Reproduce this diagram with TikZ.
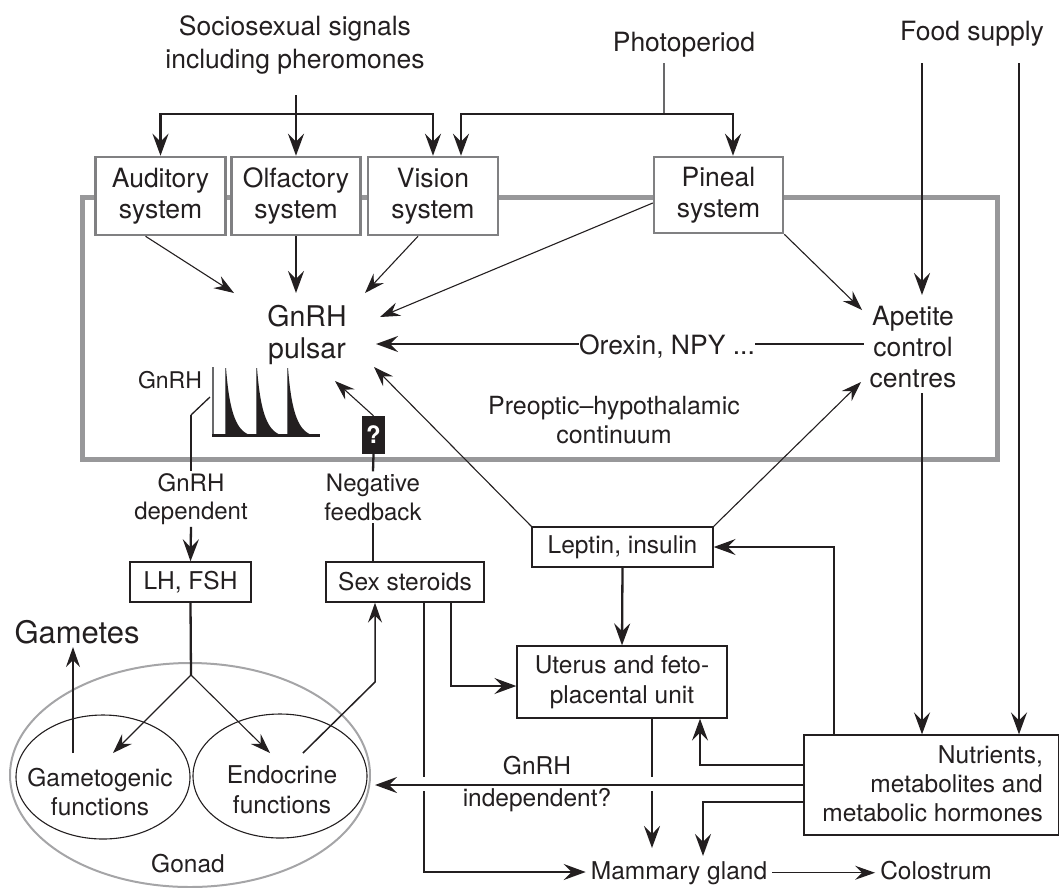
\documentclass[tikz,border=0pt]{standalone}
\usepackage{fontspec}
\setmainfont{TeX Gyre Heros}
\usetikzlibrary{arrows.meta,shapes.geometric}
\definecolor{ink}{RGB}{35,31,32}
\definecolor{framegray}{RGB}{152,152,154}
\definecolor{boxgray}{RGB}{128,128,130}
\definecolor{ellgray}{RGB}{165,165,167}
\definecolor{leadgray}{RGB}{105,105,107}
\newcommand\myfs[2]{\fontsize{#1}{#2}\selectfont}
\begin{document}
\begin{tikzpicture}[x=1pt,y=-1pt,
  txt/.style={align=center,inner sep=0pt,text=ink},
  fbig/.style={font=\myfs{26.5}{33}},
  fmid/.style={font=\myfs{24.5}{29}},
  topbox/.style={draw=boxgray,line width=2.5pt,fill=white,align=center,inner sep=0pt,text=ink,font=\myfs{26.5}{31},minimum height=78pt},
  blbox/.style={draw=ink,line width=1.3pt,fill=white,align=center,inner sep=0pt,text=ink,font=\myfs{24.5}{30},minimum height=40pt},
  thk/.style={draw=ink,line width=2.3pt},
  thn/.style={draw=ink,line width=1.1pt},
  arr/.style={-{Stealth[length=22pt,width=16pt,inset=8pt]}},
  arrs/.style={-{Stealth[length=20pt,width=14pt,inset=7pt]}},
  ell/.style={ellipse,inner sep=0pt},
]
\useasboundingbox (0,0) rectangle (1059,887);

% frame
\draw[framegray,line width=5pt] (82,197) rectangle (997,459);

% top texts
\node[txt,fbig] (socio) at (295,45) {Sociosexual signals\\including pheromones};
\node[txt,fbig] (photo) at (684,45) {Photoperiod};
\node[txt,fbig] (food) at (972,34) {Food supply};

% top boxes
\node[topbox,minimum width=130pt] (aud) at (160.5,196) {Auditory\\system};
\node[topbox,minimum width=129pt] (olf) at (296,196) {Olfactory\\system};
\node[topbox,minimum width=130pt] (vis) at (433,196) {Vision\\system};
\node[topbox,minimum width=129pt,minimum height=76pt] (pin) at (718.5,195) {Pineal\\system};

% inner texts
\node[txt,font=\myfs{28.5}{32}] (pulsar) at (307,335) {GnRH\\pulsar};
\node[txt,font=\myfs{26.5}{31},inner sep=5pt] (apt) at (913,347) {Apetite\\control\\centres};
\node[txt,fbig] (orx) at (667,347) {Orexin, NPY ...};
\node[txt,font=\myfs{25}{29}] (preo) at (614,420) {Preoptic--hypothalamic\\continuum};
\node[txt,font=\myfs{23}{28}] (glab) at (170,380) {GnRH};

% pulse glyph
\draw[leadgray,line width=2pt] (213,367) -- (213,436);
\foreach \x in {226,257,288} {
  \draw[leadgray,line width=1.2pt] (\x-0.5,368) -- (\x-0.5,435);
  \fill[ink] (\x,368) .. controls (\x+3,405) and (\x+8,430) .. (\x+24,435) -- (\x,435) -- cycle;
}
\draw[ink,line width=3pt] (212,435) -- (320,435);

% question box
\node[fill=ink,minimum width=23pt,minimum height=38pt,inner sep=0pt,text=white,font=\bfseries\myfs{24}{24}] (qbox) at (373.5,435) {?};

% lower labels
\node[txt,font=\myfs{24}{28},inner sep=2pt] (gdep) at (191,499) {GnRH\\dependent};
\node[txt,font=\myfs{24}{29},inner sep=2pt] (negfb) at (373,497) {Negative\\feedback};

% lower boxes
\node[blbox,minimum width=121pt] (lh) at (190.5,582) {LH, FSH};
\node[blbox,minimum width=158pt] (sex) at (405,582) {Sex steroids};
\node[blbox,minimum width=181pt] (lep) at (622.5,547) {Leptin, insulin};
\node[blbox,minimum width=210pt,minimum height=72pt] (ute) at (622,682) {Uterus and feto-\\placental unit};
\node[blbox,minimum width=255pt,minimum height=100pt] (nut) at (931.5,785) {};
\node[txt,align=right,anchor=east,font=\myfs{24.5}{29}] (nutt) at (1043,784) {Nutrients,\\metabolites and\\metabolic hormones};

\node[txt,fmid,anchor=base,inner sep=5pt] (mam) at (679,879) {Mammary gland};
\node[txt,fmid,anchor=base,inner sep=5pt] (col) at (936,879) {Colostrum};

% gonad
\node[ell,draw=ellgray,line width=2pt,minimum width=360pt,minimum height=224pt] (gonad) at (190,775) {};
\node[ell,draw=ink,line width=1.1pt,minimum width=174pt,minimum height=124pt] (gam) at (103,777) {};
\node[ell,draw=ink,line width=1.1pt,minimum width=174pt,minimum height=124pt] (endo) at (280,776) {};
\node[txt,fmid] (gamt) at (100,792) {Gametogenic\\functions};
\node[txt,font=\myfs{24.5}{30}] (endt) at (282,790) {Endocrine\\functions};
\node[txt,fmid] (gonadt) at (188,864) {Gonad};
\node[txt,font=\myfs{31}{31},inner sep=3pt] (gam2) at (77,632) {Gametes};

% coordinates
\coordinate (s0) at (296,95);
\coordinate (sj) at (296,114);
\coordinate (p0) at (664,63);
\coordinate (pj) at (664,114);
\coordinate (tAud) at (234,293);
\coordinate (tVis) at (365,293);
\coordinate (tPin) at (380,317);
\coordinate (tOrx) at (376,344);
\coordinate (tQ) at (335,381);
\coordinate (tLep) at (374,367);
\coordinate (tApP) at (862,310);
\coordinate (tApL) at (861,382);
\coordinate (fa) at (922,63);
\coordinate (fat) at (922,295);
\coordinate (fb) at (1019,63);
\coordinate (g1) at (210,397);
\coordinate (g2) at (191,415);
\coordinate (lj) at (191,675);
\coordinate (tGam) at (113,753);
\coordinate (tEnd) at (270,753);
\coordinate (ga0) at (73,753);
\coordinate (e0) at (303,753);
\coordinate (e1) at (375,682);
\coordinate (sx1) at (424,872);
\coordinate (sx2) at (451,686);
\coordinate (um) at (652,848);
\coordinate (nl) at (834,547);
\coordinate (nu) at (700,765);
\coordinate (gi) at (375,785);
\coordinate (nm) at (703,802);

% top connectors
\draw[thk] (s0) -- (sj);
\draw[thk,arr] (sj) -| (aud.north);
\draw[thk,arr] (sj) -- (olf.north);
\draw[thk,arr] (sj) -| (vis.north);
\draw[leadgray,line width=1.2pt] (p0) -- (pj);
\draw[thk,arr] (pj) -| ([xshift=28pt]vis.north);
\draw[thk,arr] (pj) -| ([xshift=14.5pt]pin.north);

% into pulsar
\draw[thn,arrs] ([xshift=-15pt]aud.south) -- (tAud);
\draw[thk,arr] (olf.south) -- (olf.south |- tAud);
\draw[thn,arrs] ([xshift=-15pt]vis.south) -- (tVis);
\draw[thn,arrs] ([yshift=-8pt]pin.west) -- (tPin);
\draw[thk,arr] (orx.west |- tOrx) -- (tOrx);
\draw[thk] (orx.east |- tOrx) -- (apt.west |- tOrx);
\draw[thn,arrs] (qbox.north) -- (tQ);
\draw[thn,arrs] (lep.north west) -- (tLep);

% apetite
\draw[thn,arrs] (pin.south east) -- (tApP);
\draw[thn,arrs] (lep.north east) -- (tApL);
\draw[thk,arr] (fa) -- (fat);
\draw[thk,arr] (apt.south -| fa) -- (nut.north -| fa);
\draw[thk,arr] (fb) -- (nut.north -| fb);

% GnRH dependent
\draw[thn,line width=1.3pt] (g1) -- (g2);
\draw[thk] (g2) -- (gdep.north -| g2);
\draw[thk,arr] (gdep.south) -- (lh.north);

% negative feedback
\draw[thk] (sex.north -| negfb) -- (negfb.south);
\draw[thk] (negfb.north) -- (qbox.south);

% LH to gonad
\draw[thk] (lh.south) -- (lj);
\draw[thn,arrs] (lj) -- (tGam);
\draw[thn,arrs] (lj) -- (tEnd);
\draw[thn,arrs] (ga0) -- (gam2.south -| ga0);
\draw[thn,line width=1.5pt,arrs] (e0) -- (e1) -- (sex.south -| e1);

% sex steroid outputs
\draw[thk,arr] (sex.south -| sx1) -- (sx1) -- (sx1 -| mam.west);
\draw[thk,arr] (sex.south -| sx2) -- (sx2) -- (sx2 -| ute.west);

% leptin / uterus
\draw[thk,arr] (lep.south) -- (ute.north);
\draw[thk,arr] (ute.south -| um) -- (um);

% gaps at crossings
\fill[white] (418,777) rectangle (430,791);
\fill[white] (646,777) rectangle (658,791);

% nutrients
\draw[thk,arr] (nut.north -| nl) |- (lep.east);
\draw[thk,arr] (nut.west |- nu) -| (ute.south -| nu);
\draw[thk,arr] (nut.west |- gi) -- (gi);
\draw[thk,arr] (nut.west |- nm) -| (nm |- mam.north);
\node[txt,font=\myfs{24.5}{32}] (gind) at (537,784) {GnRH\\independent?};

% mammary to colostrum
\draw[thn,arrs] (mam.east) -- (mam.east -| col.west);
\end{tikzpicture}
\end{document}
